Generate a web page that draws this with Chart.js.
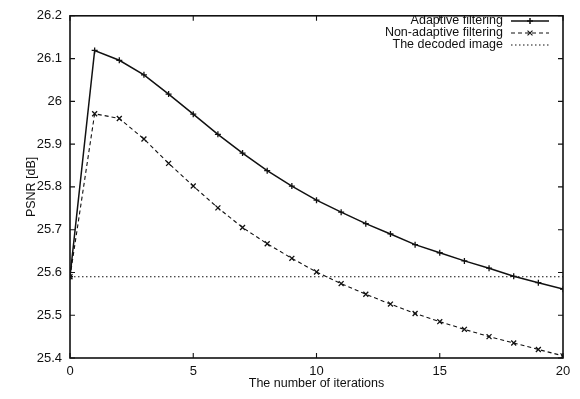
<!DOCTYPE html>
<html>
<head>
<meta charset="utf-8">
<script src="https://cdn.jsdelivr.net/npm/chart.js@4"></script>
<style>
  html, body { margin: 0; padding: 0; background: #fff; }
  #wrap { width: 580px; height: 399px; }
</style>
</head>
<body>
<div id="wrap"><canvas id="c" width="580" height="399"></canvas></div>
<script>
const ITERATIONS = [0, 1, 2, 3, 4, 5, 6, 7, 8, 9, 10, 11, 12, 13, 14, 15, 16, 17, 18, 19, 20];
const ADAPTIVE = [25.59, 26.119, 26.096, 26.062, 26.017, 25.970, 25.923, 25.879, 25.838, 25.802,
  25.769, 25.741, 25.714, 25.690, 25.665, 25.646, 25.627, 25.610, 25.591, 25.576, 25.561];
const NON_ADAPTIVE = [25.59, 25.971, 25.960, 25.912, 25.855, 25.802, 25.751, 25.705, 25.667, 25.633,
  25.601, 25.574, 25.549, 25.526, 25.504, 25.485, 25.467, 25.450, 25.435, 25.420, 25.405];
const DECODED = 25.59;
const X_TICKS = [0, 5, 10, 15, 20];
const Y_TICKS = [25.4, 25.5, 25.6, 25.7, 25.8, 25.9, 26, 26.1, 26.2];

const INK = '#111';
const FONT = 'Liberation Sans, Arial, Helvetica, sans-serif';

const pts = ys => ITERATIONS.map((x, i) => ({ x, y: ys[i] }));

// gnuplot style frame with inward ticks on all four sides + legend
const framePlugin = {
  id: 'frame',
  afterDatasetsDraw(chart) {
    const { ctx, chartArea: a, scales: { x, y } } = chart;
    const T = 5;
    ctx.save();
    ctx.strokeStyle = INK;
    ctx.lineWidth = 1.6;
    ctx.setLineDash([]);
    ctx.strokeRect(a.left, a.top, a.right - a.left, a.bottom - a.top);
    ctx.lineWidth = 1.1;
    ctx.beginPath();
    X_TICKS.forEach(v => {
      const px = x.getPixelForValue(v);
      ctx.moveTo(px, a.bottom); ctx.lineTo(px, a.bottom - T);
      ctx.moveTo(px, a.top); ctx.lineTo(px, a.top + T);
    });
    Y_TICKS.forEach(v => {
      const py = y.getPixelForValue(v);
      ctx.moveTo(a.left, py); ctx.lineTo(a.left + T, py);
      ctx.moveTo(a.right, py); ctx.lineTo(a.right - T, py);
    });
    ctx.stroke();

    // legend
    const rows = [21, 33, 45];
    ctx.font = '12.5px ' + FONT;
    ctx.fillStyle = INK;
    ctx.textAlign = 'right';
    ctx.textBaseline = 'middle';
    chart.data.datasets.forEach((ds, i) => {
      const ly = rows[i];
      ctx.fillText(ds.label, 503, ly);
      ctx.strokeStyle = INK;
      ctx.lineWidth = ds.borderWidth;
      ctx.setLineDash(ds.borderDash || []);
      ctx.beginPath();
      ctx.moveTo(511, ly); ctx.lineTo(549, ly);
      ctx.stroke();
      ctx.setLineDash([]);
      if (ds.pointRadius) {
        Chart.helpers.drawPoint(ctx, {
          pointStyle: ds.pointStyle, radius: ds.pointRadius, rotation: 0, borderWidth: 1
        }, 530, ly);
      }
    });
    ctx.restore();
  }
};

new Chart(document.getElementById('c'), {
  type: 'line',
  data: {
    datasets: [
      {
        label: 'Adaptive filtering',
        data: pts(ADAPTIVE),
        borderColor: INK,
        backgroundColor: INK,
        borderWidth: 1.5,
        pointStyle: 'cross',
        pointRadius: 3,
        pointBorderWidth: 1.3,
        tension: 0,
      },
      {
        label: 'Non-adaptive filtering',
        data: pts(NON_ADAPTIVE),
        borderColor: INK,
        backgroundColor: INK,
        borderWidth: 1.1,
        borderDash: [4, 3],
        pointStyle: 'crossRot',
        pointRadius: 3.5,
        pointBorderWidth: 1.3,
        tension: 0,
      },
      {
        label: 'The decoded image',
        data: [{ x: 0, y: DECODED }, { x: 20, y: DECODED }],
        borderColor: INK,
        borderWidth: 1.1,
        borderDash: [1.5, 2.5],
        pointRadius: 0,
        tension: 0,
      },
    ],
  },
  options: {
    responsive: false,
    animation: false,
    devicePixelRatio: 1,
    layout: { padding: { top: 7, right: 17, left: 0, bottom: 0 } },
    plugins: {
      legend: { display: false },
      tooltip: { enabled: false },
    },
    scales: {
      x: {
        type: 'linear',
        min: 0,
        max: 20,
        afterFit: s => { s.height = 41; },
        afterBuildTicks: s => { s.ticks = X_TICKS.map(v => ({ value: v })); },
        grid: { display: false, drawTicks: false },
        border: { display: false },
        ticks: { color: INK, font: { family: FONT, size: 13 }, padding: 6, maxRotation: 0 },
        title: {
          display: true,
          text: 'The number of iterations',
          color: INK,
          font: { family: FONT, size: 12.5 },
          padding: { top: 0, bottom: 8 },
        },
      },
      y: {
        type: 'linear',
        min: 25.4,
        max: 26.2,
        afterFit: s => { s.width = 70; },
        afterBuildTicks: s => { s.ticks = Y_TICKS.map(v => ({ value: v })); },
        grid: { display: false, drawTicks: false },
        border: { display: false },
        ticks: {
          color: INK,
          font: { family: FONT, size: 13 },
          padding: 8,
          callback: v => String(Math.round(v * 10) / 10),
        },
        title: {
          display: true,
          text: 'PSNR [dB]',
          color: INK,
          font: { family: FONT, size: 12.5 },
          padding: { top: 24, bottom: 0 },
        },
      },
    },
  },
  plugins: [framePlugin],
});
</script>
</body>
</html>
